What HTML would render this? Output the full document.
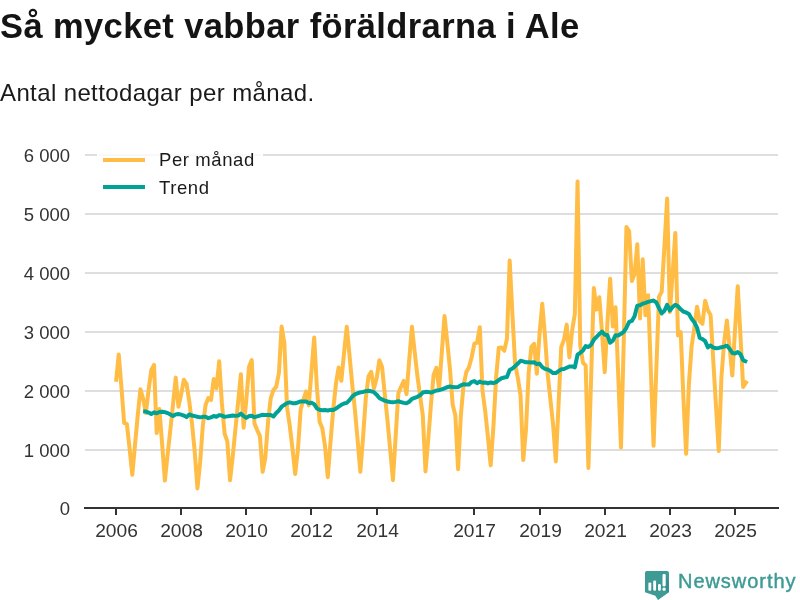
<!DOCTYPE html>
<html><head><meta charset="utf-8"><style>
html,body{margin:0;padding:0;background:#fff;width:800px;height:600px;overflow:hidden;position:relative}
body{font-family:"Liberation Sans",sans-serif;color:#1a1a1a}
div{will-change:transform;position:absolute;white-space:nowrap;line-height:1}
.t{left:0px;top:9px;font-weight:bold;font-size:34.5px;letter-spacing:0.39px;color:#141414}
.st{left:0px;top:81px;font-size:24px;letter-spacing:0.38px;color:#1a1a1a}
.yl{left:0;width:70px;text-align:right;font-size:18.5px;color:#333}
.xl{top:521px;width:81px;text-align:center;font-size:19.2px;color:#333}
.lg{left:159px;font-size:18.5px;color:#1a1a1a;letter-spacing:0.6px}
svg{position:absolute;left:0;top:0}
.nw{left:678px;top:571px;font-size:20px;color:#3e9a94;letter-spacing:0.95px;-webkit-text-stroke:0.45px #3e9a94}
</style></head><body>
<div class="t">Så mycket vabbar föräldrarna i Ale</div>
<div class="st">Antal nettodagar per månad.</div>
<svg width="800" height="600" viewBox="0 0 800 600">
<line x1="85" x2="778" y1="450" y2="450" stroke="#dedede" stroke-width="2"/><line x1="85" x2="778" y1="391" y2="391" stroke="#dedede" stroke-width="2"/><line x1="85" x2="778" y1="332" y2="332" stroke="#dedede" stroke-width="2"/><line x1="85" x2="778" y1="273" y2="273" stroke="#dedede" stroke-width="2"/><line x1="85" x2="778" y1="214" y2="214" stroke="#dedede" stroke-width="2"/><line x1="85" x2="778" y1="155" y2="155" stroke="#dedede" stroke-width="2"/>
<rect x="97" y="140" width="166" height="58" fill="#fff" fill-opacity="0.78"/><rect x="97" y="140" width="2" height="58" fill="#fff"/><rect x="261" y="140" width="2" height="58" fill="#fff"/>
<line x1="84" x2="779" y1="508" y2="508" stroke="#333" stroke-width="2"/>
<line x1="116" x2="116" y1="509" y2="515" stroke="#333" stroke-width="2"/><line x1="181" x2="181" y1="509" y2="515" stroke="#333" stroke-width="2"/><line x1="246" x2="246" y1="509" y2="515" stroke="#333" stroke-width="2"/><line x1="311" x2="311" y1="509" y2="515" stroke="#333" stroke-width="2"/><line x1="377" x2="377" y1="509" y2="515" stroke="#333" stroke-width="2"/><line x1="474" x2="474" y1="509" y2="515" stroke="#333" stroke-width="2"/><line x1="540" x2="540" y1="509" y2="515" stroke="#333" stroke-width="2"/><line x1="605" x2="605" y1="509" y2="515" stroke="#333" stroke-width="2"/><line x1="670" x2="670" y1="509" y2="515" stroke="#333" stroke-width="2"/><line x1="735" x2="735" y1="509" y2="515" stroke="#333" stroke-width="2"/>
<path d="M116.00,381.80 L118.72,354.51 L121.43,387.16 L124.14,422.87 L126.86,424.09 L129.57,448.18 L132.29,474.88 L135.00,444.73 L137.72,415.70 L140.44,389.32 L143.15,398.70 L145.87,412.92 L148.58,390.02 L151.30,370.00 L154.01,364.95 L156.72,433.06 L159.44,409.03 L162.16,444.53 L164.87,480.49 L167.58,454.89 L170.30,430.16 L173.01,404.56 L175.73,377.62 L178.44,406.81 L181.16,394.36 L183.88,379.70 L186.59,384.13 L189.31,401.71 L192.02,423.71 L194.74,451.88 L197.45,488.40 L200.16,461.90 L202.88,424.94 L205.59,405.00 L208.31,398.00 L211.02,400.02 L213.74,379.06 L216.45,388.30 L219.17,361.18 L221.88,402.98 L224.60,433.49 L227.31,441.38 L230.03,480.31 L232.75,456.16 L235.46,428.60 L238.18,401.34 L240.89,374.27 L243.60,427.75 L246.32,399.72 L249.03,366.76 L251.75,360.08 L254.47,423.42 L257.18,430.12 L259.89,435.89 L262.61,471.75 L265.32,457.65 L268.04,421.85 L270.75,398.12 L273.47,389.79 L276.19,386.88 L278.90,373.05 L281.62,326.45 L284.33,343.02 L287.04,407.18 L289.76,425.73 L292.48,448.40 L295.19,473.97 L297.90,449.77 L300.62,409.77 L303.33,399.81 L306.05,391.52 L308.76,405.35 L311.48,371.22 L314.19,337.46 L316.91,387.94 L319.62,421.74 L322.34,428.49 L325.05,446.37 L327.77,477.18 L330.49,442.11 L333.20,410.01 L335.91,383.98 L338.63,367.43 L341.35,380.73 L344.06,352.79 L346.77,326.64 L349.49,355.04 L352.20,384.20 L354.92,409.80 L357.63,440.26 L360.35,471.73 L363.06,437.26 L365.78,398.43 L368.50,376.25 L371.21,371.86 L373.93,388.48 L376.64,378.36 L379.35,360.35 L382.07,366.93 L384.78,394.25 L387.50,420.44 L390.21,449.83 L392.93,480.18 L395.64,436.88 L398.36,393.23 L401.07,386.73 L403.79,380.94 L406.50,394.12 L409.22,359.98 L411.94,326.80 L414.65,351.65 L417.37,375.67 L420.08,395.74 L422.79,415.10 L425.51,471.41 L428.22,439.63 L430.94,404.54 L433.65,374.63 L436.37,367.72 L439.08,389.13 L441.80,352.37 L444.51,315.89 L447.23,341.64 L449.94,368.69 L452.66,404.61 L455.38,415.59 L458.09,469.22 L460.81,415.88 L463.52,385.58 L466.23,372.30 L468.95,367.19 L471.66,357.24 L474.38,343.67 L477.09,342.60 L479.81,327.18 L482.52,390.73 L485.24,411.39 L487.95,437.24 L490.67,465.37 L493.38,427.09 L496.10,377.52 L498.81,347.80 L501.53,347.57 L504.25,350.76 L506.96,338.88 L509.67,260.45 L512.39,313.85 L515.11,364.24 L517.82,377.86 L520.53,395.07 L523.25,460.06 L525.96,429.75 L528.68,372.73 L531.39,346.78 L534.11,343.80 L536.83,373.75 L539.54,333.94 L542.25,303.78 L544.97,336.21 L547.68,374.57 L550.40,399.52 L553.12,424.91 L555.83,461.45 L558.54,404.96 L561.26,346.93 L563.97,339.77 L566.69,324.60 L569.40,357.40 L572.12,330.63 L574.84,313.97 L577.55,181.55 L580.26,345.71 L582.98,362.71 L585.69,365.71 L588.41,467.95 L591.12,377.53 L593.84,288.10 L596.55,309.63 L599.27,297.19 L601.98,331.80 L604.70,372.16 L607.41,322.84 L610.13,278.78 L612.85,326.50 L615.56,307.30 L618.27,376.22 L620.99,447.53 L623.70,343.39 L626.42,227.03 L629.13,231.09 L631.85,280.92 L634.56,274.07 L637.28,244.22 L640.00,318.40 L642.71,259.34 L645.42,315.16 L648.14,295.16 L650.86,370.88 L653.57,445.70 L656.28,369.98 L659.00,296.68 L661.71,291.71 L664.43,246.24 L667.14,198.55 L669.86,312.08 L672.57,274.73 L675.29,232.91 L678.00,335.44 L680.72,332.15 L683.43,398.45 L686.15,453.79 L688.87,384.49 L691.58,346.73 L694.29,328.38 L697.01,306.71 L699.73,321.22 L702.44,323.89 L705.15,300.69 L707.87,310.16 L710.58,315.17 L713.30,361.15 L716.01,406.22 L718.73,450.90 L721.44,377.10 L724.16,341.95 L726.88,320.43 L729.59,347.15 L732.30,375.57 L735.02,330.12 L737.74,286.18 L740.45,335.39 L743.16,386.90 L747.10,380.98" fill="none" stroke="#ffbd45" stroke-width="4" stroke-linejoin="round"/>
<path d="M143.15,411.29 L145.87,411.55 L148.58,412.53 L151.30,414.06 L154.01,412.35 L156.72,413.25 L159.44,411.98 L162.16,411.66 L164.87,412.15 L167.58,413.08 L170.30,414.46 L173.01,415.94 L175.73,414.38 L178.44,414.07 L181.16,414.60 L183.88,415.52 L186.59,417.13 L189.31,414.44 L192.02,415.58 L194.74,416.14 L197.45,416.80 L200.16,417.37 L202.88,416.84 L205.59,416.69 L208.31,418.16 L211.02,417.38 L213.74,416.00 L216.45,416.77 L219.17,415.10 L221.88,415.59 L224.60,416.87 L227.31,416.40 L230.03,415.96 L232.75,415.56 L235.46,415.88 L238.18,415.59 L240.89,413.66 L243.60,416.05 L246.32,417.84 L249.03,416.06 L251.75,415.84 L254.47,417.20 L257.18,416.40 L259.89,415.56 L262.61,414.77 L265.32,415.12 L268.04,414.98 L270.75,415.07 L273.47,416.48 L276.19,412.95 L278.90,410.43 L281.62,406.70 L284.33,404.88 L287.04,403.11 L289.76,402.37 L292.48,403.14 L295.19,403.19 L297.90,402.49 L300.62,401.44 L303.33,401.50 L306.05,401.54 L308.76,402.99 L311.48,402.80 L314.19,404.19 L316.91,408.40 L319.62,409.85 L322.34,410.17 L325.05,410.08 L327.77,410.43 L330.49,409.86 L333.20,409.94 L335.91,408.66 L338.63,406.70 L341.35,404.81 L344.06,403.53 L346.77,402.86 L349.49,400.10 L352.20,396.60 L354.92,394.40 L357.63,393.25 L360.35,392.40 L363.06,391.94 L365.78,391.15 L368.50,390.75 L371.21,391.33 L373.93,392.20 L376.64,394.65 L379.35,397.91 L382.07,399.42 L384.78,400.61 L387.50,401.51 L390.21,401.99 L392.93,402.27 L395.64,401.89 L398.36,401.25 L401.07,402.07 L403.79,402.86 L406.50,403.34 L409.22,401.76 L411.94,398.97 L414.65,397.93 L417.37,396.82 L420.08,395.20 L422.79,392.56 L425.51,391.85 L428.22,391.90 L430.94,392.63 L433.65,391.54 L436.37,390.50 L439.08,390.15 L441.80,389.43 L444.51,388.30 L447.23,387.21 L449.94,386.44 L452.66,387.09 L455.38,387.13 L458.09,387.07 L460.81,385.40 L463.52,384.25 L466.23,384.40 L468.95,384.51 L471.66,381.88 L474.38,381.09 L477.09,383.15 L479.81,381.57 L482.52,382.75 L485.24,382.45 L487.95,383.41 L490.67,382.48 L493.38,383.05 L496.10,382.16 L498.81,379.96 L501.53,378.20 L504.25,377.56 L506.96,377.02 L509.67,369.95 L512.39,368.53 L515.11,366.13 L517.82,363.56 L520.53,360.82 L523.25,361.37 L525.96,362.32 L528.68,362.36 L531.39,362.51 L534.11,362.27 L536.83,364.13 L539.54,363.62 L542.25,367.12 L544.97,368.86 L547.68,369.54 L550.40,371.02 L553.12,373.11 L555.83,373.02 L558.54,371.10 L561.26,369.31 L563.97,369.08 L566.69,367.73 L569.40,366.53 L572.12,366.39 L574.84,367.39 L577.55,354.74 L580.26,352.79 L582.98,350.40 L585.69,346.12 L588.41,347.01 L591.12,344.76 L593.84,339.69 L596.55,336.86 L599.27,334.15 L601.98,331.58 L604.70,334.65 L607.41,335.06 L610.13,342.79 L612.85,340.62 L615.56,335.16 L618.27,335.41 L620.99,333.84 L623.70,331.83 L626.42,327.77 L629.13,321.98 L631.85,320.99 L634.56,316.29 L637.28,305.64 L640.00,305.27 L642.71,303.71 L645.42,302.85 L648.14,301.82 L650.86,301.10 L653.57,300.52 L656.28,302.42 L659.00,308.18 L661.71,313.41 L664.43,310.80 L667.14,304.75 L669.86,310.56 L672.57,306.97 L675.29,304.72 L678.00,306.31 L680.72,309.32 L683.43,311.63 L686.15,312.47 L688.87,314.02 L691.58,318.66 L694.29,322.19 L697.01,327.58 L699.73,338.00 L702.44,339.04 L705.15,341.13 L707.87,347.40 L710.58,345.47 L713.30,347.65 L716.01,348.18 L718.73,347.93 L721.44,347.25 L724.16,346.65 L726.88,345.68 L729.59,348.75 L732.30,353.06 L735.02,353.43 L737.74,352.11 L740.45,354.16 L743.16,360.19 L747.10,362.05" fill="none" stroke="#00a296" stroke-width="4" stroke-linejoin="round"/>
<line x1="103" x2="145" y1="160" y2="160" stroke="#ffbd45" stroke-width="4"/>
<line x1="103" x2="145" y1="187" y2="187" stroke="#00a296" stroke-width="4"/>
<path d="M646.8,571 H667 Q669,571 669,573 V592.2 L658,600 L655.3,595.8 L645,592.2 V573 Q645,571 646.8,571 Z" fill="#3e9a94"/>
<path d="M651.3,584 L655,590.7 L651.3,590.7Z M656.1,582 L659.5,590.7 L656.1,590.7Z M665.7,576 L669,582 L669,592.2 L665.7,590.7Z" fill="#35868a" opacity="0.6"/>
<rect x="648.4" y="582.4" width="2.9" height="8.3" rx="1.2" fill="#fff"/>
<rect x="653.2" y="580.5" width="2.9" height="10.2" rx="1.2" fill="#fff"/>
<rect x="658" y="584" width="2.8" height="6.7" rx="1.2" fill="#fff"/>
<rect x="662.5" y="574.1" width="3.2" height="12.3" rx="1.3" fill="#fff"/>
<rect x="662.5" y="587.7" width="3.2" height="3" rx="1.2" fill="#fff"/>
</svg>
<div class="yl" style="top:499.5px">0</div><div class="yl" style="top:441.5px">1 000</div><div class="yl" style="top:382.5px">2 000</div><div class="yl" style="top:323.5px">3 000</div><div class="yl" style="top:264.5px">4 000</div><div class="yl" style="top:205.5px">5 000</div><div class="yl" style="top:146.5px">6 000</div>
<div class="xl" style="left:76px">2006</div><div class="xl" style="left:141px">2008</div><div class="xl" style="left:206px">2010</div><div class="xl" style="left:271px">2012</div><div class="xl" style="left:337px">2014</div><div class="xl" style="left:434px">2017</div><div class="xl" style="left:500px">2019</div><div class="xl" style="left:565px">2021</div><div class="xl" style="left:630px">2023</div><div class="xl" style="left:695px">2025</div>
<div class="lg" style="top:151px">Per månad</div>
<div class="lg" style="top:179px">Trend</div>
<div class="nw">Newsworthy</div>
</body></html>
